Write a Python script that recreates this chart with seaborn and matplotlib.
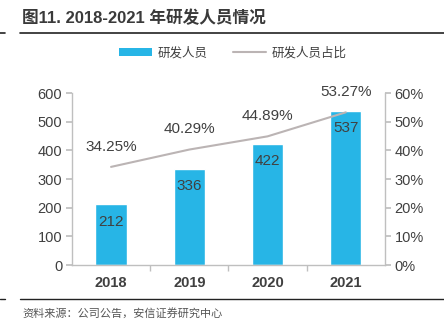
import matplotlib
matplotlib.use("Agg")
import matplotlib.pyplot as plt
import seaborn as sns
import pandas as pd
from matplotlib.lines import Line2D
from matplotlib.patches import Patch

years = ["2018", "2019", "2020", "2021"]
staff = [212, 336, 422, 537]
ratio = [34.25, 40.29, 44.89, 53.27]
left_ticks = [0, 100, 200, 300, 400, 500, 600]
right_ticks = [0, 10, 20, 30, 40, 50, 60]

sns.set_theme(style="white")
plt.rcParams['font.family'] = ['Liberation Sans', 'Noto Sans CJK SC', 'DejaVu Sans']

BAR = "#27B5E6"
LINE = "#BBB4B4"
TXT = "#404040"

df = pd.DataFrame({"year": years, "staff": staff, "ratio": ratio})

fig = plt.figure(figsize=(4.44, 3.31), dpi=100)
ax = fig.add_axes([0.162, 0.199, 0.705, 0.520])
sns.barplot(data=df, x="year", y="staff", color=BAR, width=0.4, ax=ax, saturation=1)
ax.set_ylim(0, 600)
ax.set_yticks(left_ticks)
ax.set_xlim(-0.5, 3.5)
ax.set_xlabel("")
ax.set_ylabel("")
ax2 = ax.twinx()
sns.lineplot(x=list(range(len(years))), y=ratio, ax=ax2, color=LINE, linewidth=1.5)
ax2.set_ylim(0, 60)
ax2.set_yticks(right_ticks)
ax2.set_yticklabels([f"{v}%" for v in right_ticks])
ax2.set_ylabel("")

for a in (ax, ax2):
    for s in a.spines.values():
        s.set_visible(False)
ax.spines['left'].set_visible(True)
ax.spines['bottom'].set_visible(True)
ax2.spines['right'].set_visible(True)
for s in (ax.spines['left'], ax.spines['bottom'], ax2.spines['right']):
    s.set_color("#BFBFBF")
    s.set_linewidth(1)

ax.tick_params(axis='y', length=4, color="#BFBFBF", labelsize=10.5, labelcolor=TXT, pad=3, left=True)
ax2.tick_params(axis='y', length=4, color="#BFBFBF", labelsize=10.5, labelcolor=TXT, pad=3, right=True)
ax.set_xticks(range(len(years)))
ax.set_xticklabels(years, fontweight='bold')
ax.tick_params(axis='x', length=0, labelsize=10.5, labelcolor=TXT, pad=8)
ax.set_xticks([0.5, 1.5, 2.5], minor=True)
ax.tick_params(axis='x', which='minor', length=4, color="#BFBFBF", bottom=True)

for i, v in enumerate(staff):
    ax.text(i, v - 60, str(v), ha='center', va='center', fontsize=11, color=TXT)
for i, v in enumerate(ratio):
    ax2.text(i, v + 7, f"{v:.2f}%", ha='center', va='center', fontsize=11, color=TXT)

fig.text(0.05, 0.945, "图11. 2018-2021 年研发人员情况", fontsize=12, fontweight='bold',
         color="#3A3A3A", family=['Liberation Sans', 'Noto Sans CJK SC'], va='center')
fig.add_artist(Line2D([0.045, 1.0], [0.9, 0.9], color="#222222", linewidth=1.2))
fig.add_artist(Line2D([0.0, 0.012], [0.9, 0.9], color="#222222", linewidth=1.2))
fig.add_artist(Line2D([0.045, 1.0], [0.097, 0.097], color="#222222", linewidth=1.0))
fig.add_artist(Line2D([0.0, 0.012], [0.097, 0.097], color="#222222", linewidth=1.0))
fig.text(0.05, 0.053, "资料来源：公司公告，安信证券研究中心", fontsize=8, style='italic',
         color="#555555", family=['Noto Sans CJK SC'], va='center')

handles = [Patch(facecolor=BAR, edgecolor='none'), Line2D([0], [0], color=LINE, linewidth=1.5)]
fig.legend(handles, ["研发人员", "研发人员占比"], loc='center', bbox_to_anchor=(0.525, 0.84),
           ncol=2, frameon=False, handlelength=2.6, handleheight=0.5,
           columnspacing=2.0, handletextpad=0.5, labelcolor=TXT,
           prop={'family': ['Noto Sans CJK SC'], 'size': 9})

fig.savefig("out.png", dpi=100)
